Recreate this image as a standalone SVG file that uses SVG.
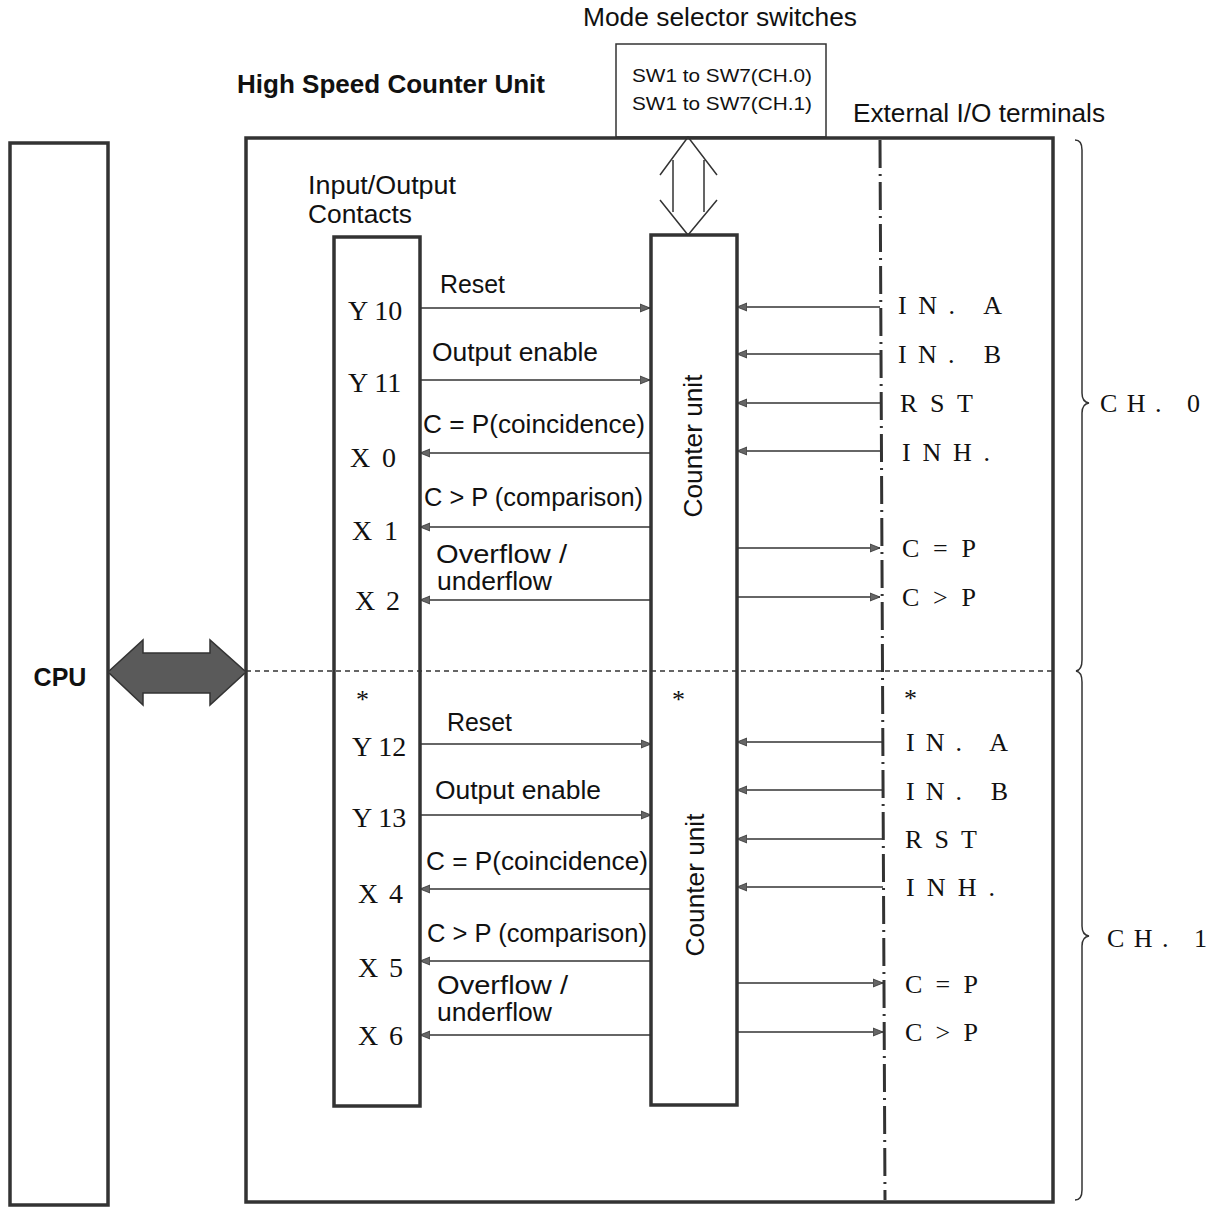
<svg xmlns="http://www.w3.org/2000/svg" width="1217" height="1207" viewBox="0 0 1217 1207">
<defs>
<marker id="ah" viewBox="0 0 10 10" refX="10" refY="5" markerWidth="10" markerHeight="10" markerUnits="userSpaceOnUse" orient="auto">
<path d="M0,1 L10,5 L0,9 Z" fill="#666" stroke="#333" stroke-width="0.8"/>
</marker>
</defs>
<style>
.box{fill:none;stroke:#333;stroke-width:3.5}
.thin{fill:none;stroke:#333;stroke-width:1.5}
.ar{fill:none;stroke:#333;stroke-width:1.5;marker-end:url(#ah)}
.s{font-family:"Liberation Sans",Arial,sans-serif;font-size:25px;fill:#111}
.sb{font-family:"Liberation Sans",Arial,sans-serif;font-size:25px;font-weight:bold;fill:#111}
.sm{font-family:"Liberation Sans",Arial,sans-serif;font-size:19px;fill:#111}
.r{font-family:"Liberation Serif","Times New Roman",serif;font-size:26px;fill:#111}
.rl{font-family:"Liberation Serif","Times New Roman",serif;font-size:28px;fill:#111}
</style>
<rect width="1217" height="1207" fill="#fff"/>

<g id="cpu">
<rect class="box" x="10" y="143" width="98" height="1062"/>
<text class="sb" x="60" y="686" text-anchor="middle" font-size="23">CPU</text>
</g>

<g id="hscu">
<rect class="box" x="246" y="138" width="807" height="1064"/>
<text class="sb" x="237" y="93" textLength="308" lengthAdjust="spacingAndGlyphs" font-size="24">High Speed Counter Unit</text>
<line x1="246" y1="671" x2="1053" y2="671" stroke="#333" stroke-width="1.3" stroke-dasharray="5,4"/>
<line x1="880" y1="140" x2="885" y2="1200" stroke="#333" stroke-width="3" stroke-dasharray="28,6,2,6"/>
<text class="s" x="853" y="122" textLength="252" lengthAdjust="spacingAndGlyphs">External I/O terminals</text>
</g>

<g id="mode">
<rect class="thin" x="616" y="44" width="210" height="93" stroke-width="2"/>
<text class="s" x="583" y="26" textLength="274" lengthAdjust="spacingAndGlyphs">Mode selector switches</text>
<text class="sm" x="632" y="82" textLength="180" lengthAdjust="spacingAndGlyphs">SW1 to SW7(CH.0)</text>
<text class="sm" x="632" y="110" textLength="180" lengthAdjust="spacingAndGlyphs">SW1 to SW7(CH.1)</text>
</g>

<g id="io">
<rect class="box" x="334" y="237" width="86" height="869" stroke-width="3"/>
<text class="s" x="308" y="194" textLength="148" lengthAdjust="spacingAndGlyphs">Input/Output</text>
<text class="s" x="308" y="223" textLength="104" lengthAdjust="spacingAndGlyphs">Contacts</text>
<text class="rl" x="348" y="320">Y 10</text>
<text class="rl" x="348" y="392">Y 11</text>
<text class="rl" x="350" y="467" textLength="46" lengthAdjust="spacing">X 0</text>
<text class="rl" x="352" y="540" textLength="46" lengthAdjust="spacing">X 1</text>
<text class="rl" x="355" y="610" textLength="45" lengthAdjust="spacing">X 2</text>
<text class="r" x="356" y="708">*</text>
<text class="rl" x="352" y="756">Y 12</text>
<text class="rl" x="352" y="827">Y 13</text>
<text class="rl" x="358" y="903" textLength="45" lengthAdjust="spacing">X 4</text>
<text class="rl" x="358" y="977" textLength="45" lengthAdjust="spacing">X 5</text>
<text class="rl" x="358" y="1045" textLength="45" lengthAdjust="spacing">X 6</text>
</g>

<g id="counter">
<rect class="box" x="651" y="235" width="86" height="870" stroke-width="3"/>
<text class="s" x="0" y="0" text-anchor="middle" textLength="143" lengthAdjust="spacingAndGlyphs" transform="translate(702,446) rotate(-90)">Counter unit</text>
<text class="s" x="0" y="0" text-anchor="middle" textLength="143" lengthAdjust="spacingAndGlyphs" transform="translate(704,885) rotate(-90)">Counter unit</text>
<text class="r" x="672" y="708">*</text>
</g>

<g id="terminals">
<text class="r" x="898" y="314" textLength="104" lengthAdjust="spacing">IN. A</text>
<text class="r" x="898" y="363" textLength="103" lengthAdjust="spacing">IN. B</text>
<text class="r" x="900" y="412" textLength="73" lengthAdjust="spacing">RST</text>
<text class="r" x="902" y="461" textLength="88" lengthAdjust="spacing">INH.</text>
<text class="r" x="902" y="557" textLength="74" lengthAdjust="spacing">C = P</text>
<text class="r" x="902" y="606" textLength="74" lengthAdjust="spacing">C &gt; P</text>
<text class="r" x="904" y="707">*</text>
<text class="r" x="906" y="751" textLength="102" lengthAdjust="spacing">IN. A</text>
<text class="r" x="906" y="800" textLength="102" lengthAdjust="spacing">IN. B</text>
<text class="r" x="905" y="848" textLength="72" lengthAdjust="spacing">RST</text>
<text class="r" x="906" y="896" textLength="89" lengthAdjust="spacing">INH.</text>
<text class="r" x="905" y="993" textLength="73" lengthAdjust="spacing">C = P</text>
<text class="r" x="905" y="1041" textLength="73" lengthAdjust="spacing">C &gt; P</text>
</g>

<g id="channels">
<path class="thin" d="M1075,140 Q1082,140 1082,150 L1082,393 Q1082,402 1089,403 Q1082,404 1082,413 L1082,660 Q1082,670 1076,671 Q1082,672 1082,682 L1082,926 Q1082,935 1089,936 Q1082,937 1082,946 L1082,1190 Q1082,1200 1075,1200" stroke-width="1.3"/>
<text class="r" x="1100" y="412" textLength="100" lengthAdjust="spacing">CH. 0</text>
<text class="r" x="1107" y="947" textLength="100" lengthAdjust="spacing">CH. 1</text>
</g>

<g id="connectors">
<path d="M108,672 L143,640 L143,653 L210,653 L210,640 L246,672 L210,705 L210,693 L143,693 L143,705 Z" fill="#5a5a5a" stroke="#333" stroke-width="1.5"/>
<path class="thin" d="M660,175 L688,137 L717,175 M673,160 L673,212 M704,160 L704,212 M660,200 L688,235 L717,200" stroke-width="1.8"/>

<line class="ar" x1="420" y1="308" x2="650" y2="308"/>
<text class="s" x="440" y="293" textLength="65" lengthAdjust="spacingAndGlyphs">Reset</text>
<line class="ar" x1="420" y1="380" x2="650" y2="380"/>
<text class="s" x="432" y="361" textLength="166" lengthAdjust="spacingAndGlyphs">Output enable</text>
<line class="ar" x1="651" y1="453" x2="420" y2="453"/>
<text class="s" x="423" y="433" textLength="222" lengthAdjust="spacingAndGlyphs">C = P(coincidence)</text>
<line class="ar" x1="651" y1="527" x2="420" y2="527"/>
<text class="s" x="424" y="506" textLength="219" lengthAdjust="spacingAndGlyphs">C &gt; P (comparison)</text>
<line class="ar" x1="651" y1="600" x2="420" y2="600"/>
<text class="s" x="436" y="563" textLength="131" lengthAdjust="spacingAndGlyphs">Overflow /</text>
<text class="s" x="437" y="590" textLength="115" lengthAdjust="spacingAndGlyphs">underflow</text>

<line class="ar" x1="880" y1="307" x2="737" y2="307"/>
<line class="ar" x1="880" y1="354" x2="737" y2="354"/>
<line class="ar" x1="880" y1="403" x2="737" y2="403"/>
<line class="ar" x1="880" y1="451" x2="737" y2="451"/>
<line class="ar" x1="737" y1="548" x2="880" y2="548"/>
<line class="ar" x1="737" y1="597" x2="880" y2="597"/>

<line class="ar" x1="420" y1="744" x2="651" y2="744"/>
<text class="s" x="447" y="731" textLength="65" lengthAdjust="spacingAndGlyphs">Reset</text>
<line class="ar" x1="420" y1="815" x2="651" y2="815"/>
<text class="s" x="435" y="799" textLength="166" lengthAdjust="spacingAndGlyphs">Output enable</text>
<line class="ar" x1="651" y1="889" x2="420" y2="889"/>
<text class="s" x="426" y="870" textLength="222" lengthAdjust="spacingAndGlyphs">C = P(coincidence)</text>
<line class="ar" x1="651" y1="961" x2="420" y2="961"/>
<text class="s" x="427" y="942" textLength="220" lengthAdjust="spacingAndGlyphs">C &gt; P (comparison)</text>
<line class="ar" x1="651" y1="1035" x2="420" y2="1035"/>
<text class="s" x="437" y="994" textLength="131" lengthAdjust="spacingAndGlyphs">Overflow /</text>
<text class="s" x="437" y="1021" textLength="115" lengthAdjust="spacingAndGlyphs">underflow</text>

<line class="ar" x1="883" y1="742" x2="737" y2="742"/>
<line class="ar" x1="883" y1="790" x2="737" y2="790"/>
<line class="ar" x1="883" y1="839" x2="737" y2="839"/>
<line class="ar" x1="883" y1="887" x2="737" y2="887"/>
<line class="ar" x1="737" y1="983" x2="883" y2="983"/>
<line class="ar" x1="737" y1="1032" x2="883" y2="1032"/>
</g>
</svg>
